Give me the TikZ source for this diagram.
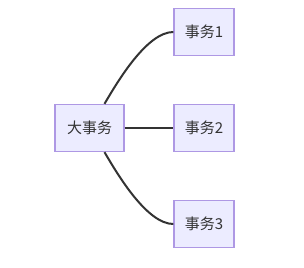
\documentclass[tikz,border=0pt]{standalone}
\usepackage{fontspec}
\setmainfont{Noto Sans CJK SC}
\usepackage{tikz}
\usetikzlibrary{positioning,calc}
\definecolor{boxfill}{HTML}{ECECFF}
\definecolor{boxline}{HTML}{AE98E4}
\definecolor{inkgray}{HTML}{333333}
\tikzset{
  taskfont/.style={font=\fontsize{15}{17}\selectfont, text=inkgray},
  taskbox/.style={draw=boxline, fill=boxfill, line width=1.3pt, minimum width=60pt, minimum height=47pt, inner sep=0pt, taskfont},
  mainbox/.style={taskbox, minimum width=69pt},
  tasklink/.style={draw=inkgray, line width=2pt},
}
\begin{document}
\begin{tikzpicture}[x=1pt,y=-1pt]
		\useasboundingbox (0,0) rectangle (304,267);

		% Parent task
		\node[mainbox] (big) at (89.5,128) {大事务};

		% Child tasks
		\node[taskbox] (t1) at (204,32) {事务1};
		\node[taskbox] (t2) at (204,128) {事务2};
		\node[taskbox] (t3) at (204,224) {事务3};

		% Links
		\draw[tasklink] ($(big.north)+(15,0)$) .. controls +(14,-24) and +(-26,0) .. (t1.west);
		\draw[tasklink] (big.east) -- (t2.west);
		\draw[tasklink] ($(big.south)+(15,0)$) .. controls +(14,24) and +(-26,0) .. (t3.west);
	\end{tikzpicture}
\end{document}
